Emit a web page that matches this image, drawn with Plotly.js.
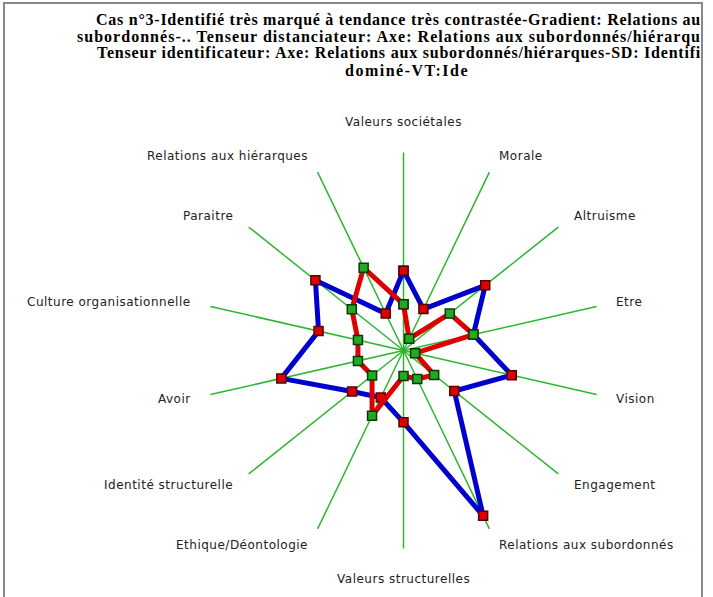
<!DOCTYPE html>
<html>
<head>
<meta charset="utf-8">
<script src="https://cdn.plot.ly/plotly-3.0.1.min.js"></script>
<style>
html,body{margin:0;padding:0;background:#fff;}
#chart{width:713px;height:597px;}
text[style*="DejaVu Sans"]{letter-spacing:0.5px;}
</style>
</head>
<body>
<div id="chart"></div>
<script>
// Axes (clockwise from top)
const categories = [
  "Valeurs sociétales", "Morale", "Altruisme", "Etre", "Vision", "Engagement",
  "Relations aux subordonnés", "Valeurs structurelles", "Ethique/Déontologie",
  "Identité structurelle", "Avoir", "Culture organisationnelle", "Paraitre",
  "Relations aux hiérarques"
];
// Series (percent of the outer radius)
const seriesBlue = [40.3, 23.2, 52.8, 36.2, 56.1, 32.8, 92.7, 36.3, 26.4, 33.2, 63.3, 44.0, 56.9, 20.7];
const seriesRed  = [23.3, 6.6, 29.9, 36.2, 6.0, 19.8, 16.0, 12.9, 36.6, 20.3, 23.6, 23.6, 33.4, 46.4];
const titleLines = [
  "Cas n°3-Identifié très marqué à tendance très contrastée-Gradient: Relations au",
  "subordonnés-.. Tenseur distanciateur: Axe: Relations aux subordonnés/hiérarqu",
  "Tenseur identificateur: Axe: Relations aux subordonnés/hiérarques-SD: Identifi",
  "dominé-VT:Ide"
];

const close = a => a.concat([a[0]]);
const W = 713, H = 597;
const cx = 403.5, cy = 350.5, R = 198;

const traces = [
  {
    type: "scatterpolar", mode: "lines+markers",
    r: close(seriesBlue), theta: close(categories),
    line: {color: "#0000cc", width: 5},
    marker: {symbol: "square", size: 9, color: "#dd0000", line: {color: "#5a0000", width: 1.5}},
    hoverinfo: "none", showlegend: false
  },
  {
    type: "scatterpolar", mode: "lines+markers",
    r: close(seriesRed), theta: close(categories),
    line: {color: "#dd0000", width: 5},
    marker: {symbol: "square", size: 9, color: "#22aa22", line: {color: "#0a3a0a", width: 1.5}},
    hoverinfo: "none", showlegend: false
  }
];

// Title lines: left edge / right edge of each line as seen in the original
const titleL = [96, 77, 97, 345];
const titleR = [701, 701, 701, 469];
const titleY = [20, 37, 53, 70];
const annotations = titleLines.map((t, i) => ({
  text: "<b>" + t + "</b>", showarrow: false,
  xref: "paper", yref: "paper",
  x: titleL[i] / W, y: 1 - titleY[i] / H,
  xanchor: "left", yanchor: "middle",
  font: {family: "Liberation Serif", size: 16, color: "#000"}
}));

// Axis labels placed just beyond the end of each spoke
const n = categories.length;
categories.forEach((c, i) => {
  const a = i * 2 * Math.PI / n;
  const deg = i * 360 / n;
  let r = 216, xa, ya = "middle";
  if (Math.abs(deg) < 1e-6) { r = 220; xa = "center"; ya = "bottom"; }
  else if (Math.abs(deg - 180) < 1e-6) { r = 219; xa = "center"; ya = "top"; }
  else if (deg < 180) xa = "left"; else xa = "right";
  const px = cx + r * Math.sin(a), py = cy - r * Math.cos(a);
  annotations.push({
    text: c, showarrow: false, xref: "paper", yref: "paper",
    x: px / W, y: 1 - py / H, xanchor: xa, yanchor: ya,
    font: {family: "DejaVu Sans", size: 12, color: "#222"}
  });
});

const layout = {
  width: W, height: H,
  margin: {l: 0, r: 0, t: 0, b: 0},
  paper_bgcolor: "#fff",
  showlegend: false,
  polar: {
    domain: {x: [(cx - R) / W, (cx + R) / W], y: [(H - cy - R) / H, (H - cy + R) / H]},
    bgcolor: "rgba(0,0,0,0)",
    radialaxis: {range: [0, 100], visible: false, showgrid: false},
    angularaxis: {
      direction: "clockwise", rotation: 90,
      showline: false, showgrid: true, gridcolor: "#2db52d", gridwidth: 1.5,
      ticks: "", showticklabels: false
    }
  },
  annotations: annotations,
  shapes: [{
    type: "rect", xref: "paper", yref: "paper",
    x0: 4 / W, x1: 702 / W, y0: -0.05, y1: 1 - 3 / H,
    line: {color: "#888", width: 2}, fillcolor: "rgba(0,0,0,0)", layer: "below"
  }]
};

Plotly.newPlot("chart", traces, layout, {displayModeBar: false, staticPlot: true}).then(gd => {
  // stretch the title lines to the width they have in the original
  const texts = gd.querySelectorAll(".annotation-text");
  for (let i = 0; i < titleLines.length; i++) {
    const t = texts[i];
    const w = t.getComputedTextLength();
    const x = parseFloat(t.getAttribute("x"));
    const anchor = t.getAttribute("text-anchor");
    const startLocal = anchor === "middle" ? x - w / 2 : (anchor === "end" ? x - w : x);
    const left = t.getBoundingClientRect().left;
    const nch = titleLines[i].length;
    const ls = ((titleR[i] - titleL[i]) - w) / nch;
    t.setAttribute("text-anchor", "start");
    t.setAttribute("x", startLocal + (titleL[i] - left));
    t.style.letterSpacing = ls + "px";
  }
});
</script>
</body>
</html>
